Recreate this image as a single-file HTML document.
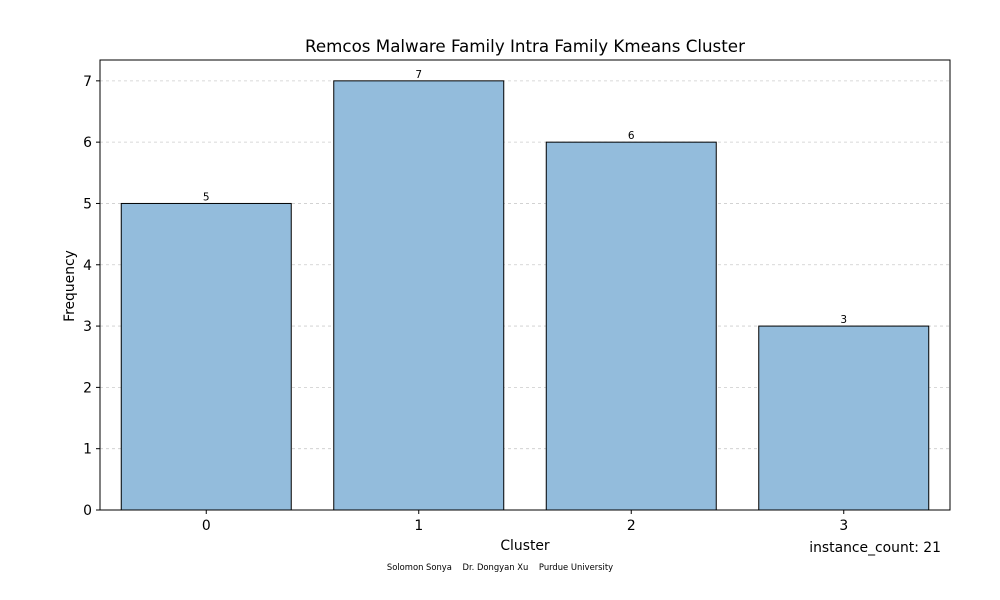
<!DOCTYPE html>
<html><head><meta charset="utf-8"><style>
body{margin:0;background:#fff;}
svg{display:block;font-family:"DejaVu Sans","Liberation Sans",sans-serif;}
</style></head><body>
<svg id="chart" width="1000" height="600">
<rect width="1000" height="600" fill="#fff"/>
<text x="525" y="52" text-anchor="middle" font-size="16.7">Remcos Malware Family Intra Family Kmeans Cluster</text>
<g id="grid"></g>
<g id="bars"></g>
<rect x="100" y="60" width="850" height="450" fill="none" stroke="#000" stroke-width="1"/>
<g id="ticks"></g>
<text x="525" y="550" text-anchor="middle" font-size="13.9">Cluster</text>
<text x="0" y="0" transform="translate(74,286) rotate(-90)" text-anchor="middle" font-size="13.9">Frequency</text>
<text x="941" y="552" text-anchor="end" font-size="13.9">instance_count: 21</text>
<text x="500" y="570" text-anchor="middle" font-size="8.4" xml:space="preserve">Solomon Sonya    Dr. Dongyan Xu    Purdue University</text>
</svg>
<script>
const categories = ["0","1","2","3"];
const values = [5,7,6,3];
const yTicks = [0,1,2,3,4,5,6,7];
const NS="http://www.w3.org/2000/svg";
const L=100,R=950,T=60,B=510,yMax=7.34;
function xs(i){return L+(i+0.5)*(R-L)/categories.length;}
function ys(v){return B-v*(B-T)/yMax;}
function mk(tag,attrs,parent){const e=document.createElementNS(NS,tag);for(const k in attrs)e.setAttribute(k,attrs[k]);document.getElementById(parent).appendChild(e);return e;}
const bw=0.8*(R-L)/categories.length;
yTicks.forEach(t=>{
  if(t>0){const g=mk("line",{x1:L,x2:R,y1:ys(t),y2:ys(t),stroke:"#ccc","stroke-dasharray":"3,3","stroke-width":0.8},"grid");
  
  }
  const tk=mk("line",{x1:L-4,x2:L,y1:ys(t),y2:ys(t),stroke:"#000"},"ticks");
  
  
  const tl=mk("text",{x:L-8,y:ys(t)+5,"text-anchor":"end","font-size":13.9},"ticks");
  tl.textContent=t;
  
  
});
categories.forEach((c,i)=>{
  const r=mk("rect",{x:xs(i)-bw/2,y:ys(values[i]),width:bw,height:B-ys(values[i]),fill:"#93bcdc",stroke:"#000","stroke-width":1},"bars");
  
  
  const v=mk("text",{x:xs(i),y:ys(values[i])-3,"text-anchor":"middle","font-size":10.5},"bars");
  v.textContent=values[i];
  
  
  const tk=mk("line",{x1:xs(i),x2:xs(i),y1:B,y2:B+4,stroke:"#000"},"ticks");
  
  
  const tl=mk("text",{x:xs(i),y:B+20,"text-anchor":"middle","font-size":13.9},"ticks");
  tl.textContent=c;
  
  
});
</script>
</body></html>
